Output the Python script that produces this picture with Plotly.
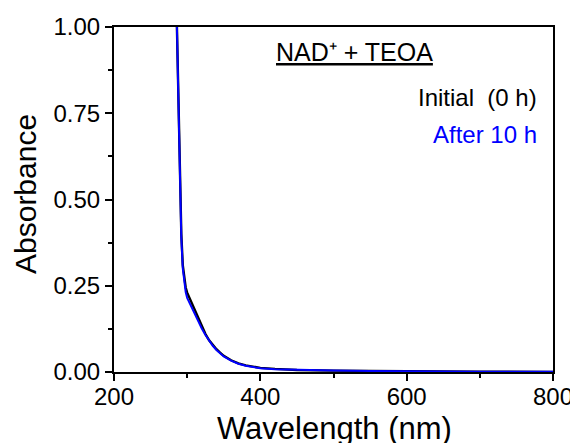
import plotly.graph_objects as go

wavelength = [280, 284, 286, 288, 290, 292, 294, 296, 298, 300, 305, 310, 315, 320, 325, 330, 335, 340, 345, 350, 360, 370, 380, 390, 400, 420, 450, 500, 550, 600, 700, 800]
initial = [1.3, 1.08, 1.0, 0.80, 0.55, 0.40, 0.31, 0.27, 0.245, 0.23, 0.205, 0.18, 0.155, 0.13, 0.11, 0.092, 0.078, 0.066, 0.056, 0.047, 0.034, 0.025, 0.019, 0.015, 0.012, 0.009, 0.006, 0.004, 0.003, 0.002, 0.001, 0.0005]
after10 = [1.3, 1.08, 1.0, 0.79, 0.54, 0.39, 0.30, 0.255, 0.232, 0.215, 0.192, 0.17, 0.148, 0.126, 0.107, 0.09, 0.076, 0.064, 0.054, 0.045, 0.033, 0.024, 0.018, 0.014, 0.011, 0.008, 0.006, 0.004, 0.003, 0.002, 0.001, 0.0005]

x_ticks = [200, 400, 600, 800]
y_ticks = [0.0, 0.25, 0.5, 0.75, 1.0]
y_tick_labels = ["0.00", "0.25", "0.50", "0.75", "1.00"]

font = "Liberation Sans, Arial, sans-serif"

# plot area in screenshot pixels (page body has an 8px margin)
OFF = 8
L, R, T, B = 114, 553, 27, 372
W, H = 570, 435


def px(xp):
    return (xp - L) / (R - L)


def py(yp):
    return (B - yp) / (B - T)


fig = go.Figure()
fig.add_trace(go.Scatter(x=wavelength, y=initial, mode="lines", line=dict(color="black", width=2.4), name="Initial (0 h)"))
fig.add_trace(go.Scatter(x=wavelength, y=after10, mode="lines", line=dict(color="#0000ff", width=2), name="After 10 h"))

axis_common = dict(showline=True, linecolor="black", linewidth=2, mirror=True, showgrid=False, zeroline=False,
                   ticks="outside", ticklen=7, tickwidth=2, tickcolor="black", automargin=False,
                   tickfont=dict(family=font, size=24, color="black"))

fig.update_xaxes(range=[200, 800], tickvals=x_ticks, ticklabelstandoff=-5,
                 minor=dict(ticks="outside", ticklen=4, tickwidth=2, tickcolor="black", dtick=100, tick0=200),
                 **axis_common)
fig.update_yaxes(range=[0, 1.0], tickvals=y_ticks, ticktext=y_tick_labels,
                 minor=dict(ticks="outside", ticklen=4, tickwidth=2, tickcolor="black", dtick=0.125, tick0=0),
                 **axis_common)

fig.add_annotation(text="Wavelength (nm)", x=px(334), y=py(428), xref="paper", yref="paper",
                   xanchor="center", yanchor="middle", showarrow=False,
                   font=dict(family=font, size=31, color="black"))
fig.add_annotation(text="Absorbance", x=px(25), y=py(194), xref="paper", yref="paper", textangle=-90,
                   xanchor="center", yanchor="middle", showarrow=False,
                   font=dict(family=font, size=30, color="black"))

fig.add_annotation(text="<u>NAD⁺ + TEOA</u>", x=px(354), y=py(52), xref="paper", yref="paper",
                   xanchor="center", yanchor="middle", showarrow=False,
                   font=dict(family=font, size=25, color="black"))
fig.add_annotation(text="Initial  (0 h)", x=px(539), y=py(97), xref="paper", yref="paper",
                   xanchor="right", yanchor="middle", showarrow=False,
                   font=dict(family=font, size=24, color="black"))
fig.add_annotation(text="After 10 h", x=px(539), y=py(134), xref="paper", yref="paper",
                   xanchor="right", yanchor="middle", showarrow=False,
                   font=dict(family=font, size=24, color="#0000ff"))

fig.update_layout(width=W, height=H,
                  margin=dict(l=L - OFF, r=W - (R - OFF), t=T - OFF, b=H - (B - OFF), autoexpand=False),
                  plot_bgcolor="white", paper_bgcolor="white", showlegend=False)

fig.write_html("out.html")
